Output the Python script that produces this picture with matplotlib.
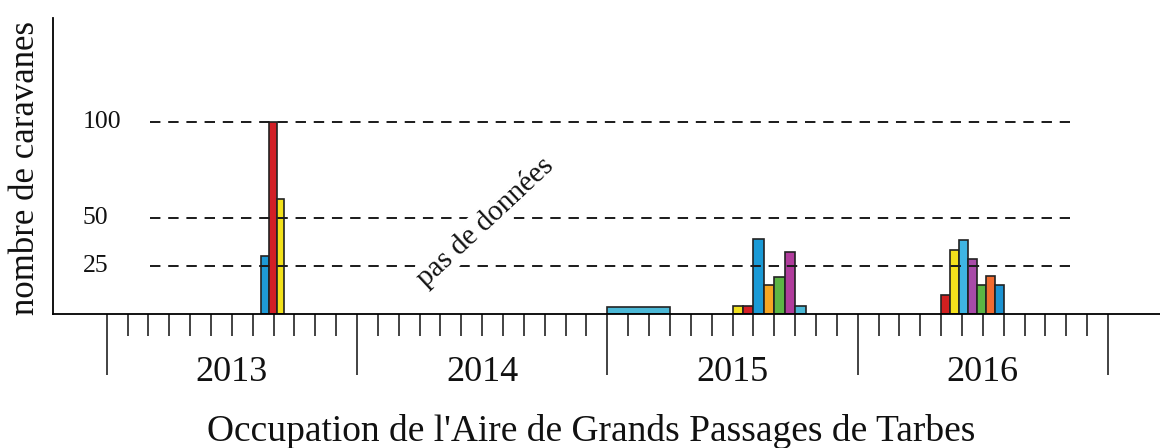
import matplotlib
matplotlib.use("Agg")
import matplotlib.pyplot as plt
from matplotlib.transforms import blended_transform_factory

plt.rcParams['font.family'] = ['Liberation Serif', 'DejaVu Serif']
plt.rcParams['lines.scale_dashes'] = False

# ---- data (x in months since Jan 2013) ----
years = ["2013", "2014", "2015", "2016"]
year_starts = [0, 12, 24, 36, 48]

start_2013 = [7.38, 7.76, 8.14]
values_2013 = [30, 100, 60]
colors_2013 = ["#1e9ad6", "#d21f26", "#f3e21b"]
width_2013 = 0.38

start_2015a = [24.0]
values_2015a = [3.5]
colors_2015a = ["#4bb8d6"]
width_2015a = 3.0

start_2015 = [30.0, 30.5, 31.0, 31.5, 32.0, 32.5, 33.0]
values_2015 = [4, 4, 39, 15, 19.5, 32.5, 4]
colors_2015 = ["#f0e020", "#d42027", "#1a9ad6", "#f5a623", "#5cb544", "#b03c9c", "#4bb8d6"]
width_2015 = 0.5

start_2016 = [40.0, 40.43, 40.86, 41.29, 41.72, 42.15, 42.58]
values_2016 = [10, 33.5, 38.5, 28.5, 15, 20, 15]
colors_2016 = ["#d02020", "#f4e01c", "#3fb5e3", "#a84aa8", "#5bb544", "#f26b30", "#1c93d2"]
width_2016 = 0.43

ref_lines = [100, 50, 25]
ref_labels = ["100", "50", "25"]

no_data_text = "pas de données"
ylabel = "nombre de caravanes"
title = "Occupation de l'Aire de Grands Passages de Tarbes"

# ---- figure ----
W, H = 1160, 448
fig = plt.figure(figsize=(W / 100, H / 100), dpi=100)
left_px, right_px, top_px, base_px = 53, 1160, 18, 314
ax = fig.add_axes([left_px / W, (H - base_px) / H, (right_px - left_px) / W, (base_px - top_px) / H])

px_per_month = 20.86
x0_px = 106.7
px_per_unit = 1.92
ax.set_xlim((left_px - x0_px) / px_per_month, (right_px - x0_px) / px_per_month)
ax.set_ylim(0, (base_px - top_px) / px_per_unit)

edge = "#222222"
for starts, vals, cols, w in [(start_2013, values_2013, colors_2013, width_2013),
                              (start_2015a, values_2015a, colors_2015a, width_2015a),
                              (start_2015, values_2015, colors_2015, width_2015),
                              (start_2016, values_2016, colors_2016, width_2016)]:
    ax.bar(starts, vals, width=w, align='edge', color=cols, edgecolor=edge, linewidth=1.2, zorder=2)

# dashed reference lines
xmin_f = (150 - left_px) / (right_px - left_px)
xmax_f = (1070 - left_px) / (right_px - left_px)
for v in ref_lines:
    ax.axhline(v, xmin=xmin_f, xmax=xmax_f, color="#1a1a1a", lw=1.4,
               linestyle=(0, (7.5, 5.6)), zorder=3)

# y labels (inside, as in reference)
tr_lab = blended_transform_factory(fig.transFigure, ax.transData)
for v, lab in zip(ref_lines, ref_labels):
    fig.text(83 / W, v, lab, transform=tr_lab, ha='left', va='center', fontsize=18.5, color="#111111")

# spines and ticks
for s in ["top", "right"]:
    ax.spines[s].set_visible(False)
ax.spines["left"].set_linewidth(1.3)
ax.spines["bottom"].set_linewidth(1.3)
ax.set_yticks([])
ax.set_xticks(year_starts)
ax.set_xticklabels([])
minor = [m for m in range(1, 48) if m % 12 != 0]
ax.set_xticks(minor, minor=True)
ax.tick_params(axis='x', which='major', direction='out', length=44, width=1.2, color="#222222")
ax.tick_params(axis='x', which='minor', direction='out', length=15.8, width=1.2, color="#222222")

# year labels
tr_year = blended_transform_factory(ax.transData, fig.transFigure)
for i, y in enumerate(years):
    ax.text((year_starts[i] + year_starts[i + 1]) / 2, (H - 372) / H, y, transform=tr_year,
            ha='center', va='center', fontsize=26, color="#111111")

# no data annotation (white backing interrupts dashed lines, as in reference)
ax.text((485 - x0_px) / px_per_month, (base_px - 222) / px_per_unit, no_data_text,
        rotation=43, ha='center', va='center', fontsize=21, color="#111111",
        rotation_mode='anchor', zorder=4,
        bbox=dict(boxstyle='square,pad=0.05', facecolor='white', edgecolor='none'))

fig.text(26 / W, (H - 168) / H, ylabel, rotation=90, ha='center', va='center', fontsize=25, color="#111111")
fig.text(591 / W, (H - 431) / H, title, ha='center', va='center', fontsize=27, color="#111111")

fig.savefig("out.png", dpi=100)
